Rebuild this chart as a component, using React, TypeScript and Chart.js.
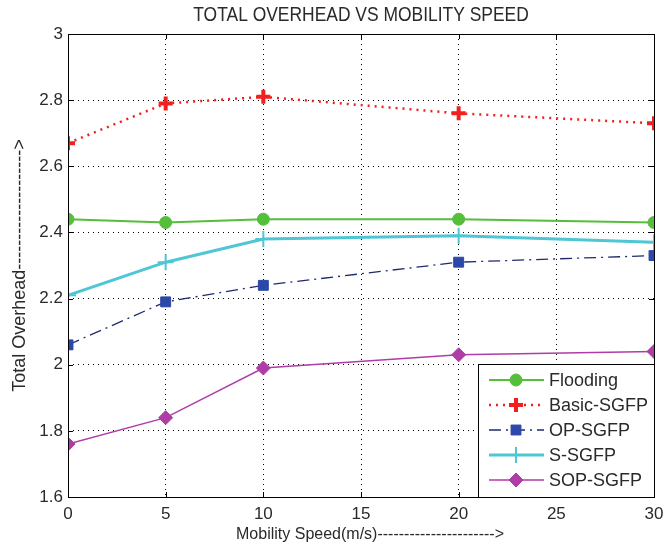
import React, { useEffect, useRef } from 'react';
import { Chart, registerables } from 'chart.js';
import { drawPoint } from 'chart.js/helpers';

Chart.register(...registerables);

const titleText = 'TOTAL OVERHEAD VS MOBILITY SPEED';
const xTitle = 'Mobility Speed(m/s)---------------------->';
const yTitle = 'Total Overhead-------------------->';

const speeds = [0, 5, 10, 20, 30];
const flooding = [2.44, 2.43, 2.44, 2.44, 2.43];
const basicSgfp = [2.67, 2.79, 2.81, 2.76, 2.73];
const opSgfp = [2.06, 2.19, 2.24, 2.31, 2.33];
const sSgfp = [2.21, 2.31, 2.38, 2.39, 2.37];
const sopSgfp = [1.76, 1.84, 1.99, 2.03, 2.04];
const seriesNames = ['Flooding', 'Basic-SGFP', 'OP-SGFP', 'S-SGFP', 'SOP-SGFP'];

const xTicks = [0, 5, 10, 15, 20, 25, 30];
const yTicks = [1.6, 1.8, 2, 2.2, 2.4, 2.6, 2.8, 3];

const FONT = '"Liberation Sans", Arial, sans-serif';
const TEXT = '#2a2a2a';

const toPts = (vals: number[]) => speeds.map((s, i) => ({ x: s, y: vals[i] }));

const framePlugin = {
  id: 'frame',
  afterDraw(chart: any) {
    const { ctx, chartArea: a, scales } = chart;
    ctx.save();
    ctx.strokeStyle = '#000';
    ctx.lineWidth = 1;
    ctx.setLineDash([]);
    ctx.beginPath();
    const t = 5;
    xTicks.forEach((v) => {
      const x = Math.round(scales.x.getPixelForValue(v)) + 0.5;
      ctx.moveTo(x, a.bottom); ctx.lineTo(x, a.bottom - t);
      ctx.moveTo(x, a.top); ctx.lineTo(x, a.top + t);
    });
    yTicks.forEach((v) => {
      const y = Math.round(scales.y.getPixelForValue(v)) + 0.5;
      ctx.moveTo(a.left, y); ctx.lineTo(a.left + t, y);
      ctx.moveTo(a.right, y); ctx.lineTo(a.right - t, y);
    });
    ctx.stroke();
    ctx.strokeRect(Math.round(a.left) + 0.5, Math.round(a.top) + 0.5, Math.round(a.right - a.left), Math.round(a.bottom - a.top));

    // title (condensed, as in the original figure)
    ctx.save();
    ctx.fillStyle = TEXT;
    ctx.font = `21px ${FONT}`;
    ctx.textAlign = 'center';
    ctx.textBaseline = 'middle';
    ctx.translate((a.left + a.right) / 2, 15);
    ctx.scale(0.83, 1);
    ctx.fillText(titleText, 0, 0);
    ctx.restore();

    // x axis title
    ctx.fillStyle = TEXT;
    ctx.font = `16px ${FONT}`;
    ctx.textAlign = 'center';
    ctx.textBaseline = 'middle';
    ctx.fillText(xTitle, (a.left + a.right) / 2 + 9, 535);

    // legend
    const lw = 176, rowH = 25, lh = 133;
    const lx = a.right - lw, ly = a.bottom - lh;
    ctx.fillStyle = '#fff';
    ctx.fillRect(lx, ly, lw, lh);
    ctx.strokeStyle = '#000';
    ctx.strokeRect(Math.round(lx) + 0.5, Math.round(ly) + 0.5, lw, lh);
    chart.data.datasets.forEach((ds: any, i: number) => {
      const y = ly + 16 + i * rowH;
      ctx.save();
      ctx.strokeStyle = ds.borderColor;
      ctx.lineWidth = ds.borderWidth;
      ctx.setLineDash(ds.borderDash || []);
      ctx.beginPath();
      ctx.moveTo(lx + 11, y);
      ctx.lineTo(lx + 66, y);
      ctx.stroke();
      ctx.setLineDash([]);
      ctx.fillStyle = ds.pointBackgroundColor;
      ctx.strokeStyle = ds.pointBorderColor;
      ctx.lineWidth = ds.pointBorderWidth;
      drawPoint(ctx, { pointStyle: ds.pointStyle, radius: ds.pointRadius, borderWidth: ds.pointBorderWidth, rotation: 0 }, lx + 38, y);
      ctx.restore();
      ctx.fillStyle = TEXT;
      ctx.font = `18px ${FONT}`;
      ctx.textAlign = 'left';
      ctx.textBaseline = 'middle';
      ctx.fillText(seriesNames[i], lx + 71, y + 1);
    });
    ctx.restore();
  },
};

export default function App() {
  const ref = useRef<HTMLCanvasElement>(null);
  useEffect(() => {
    const chart = new Chart(ref.current!, {
      type: 'line',
      data: {
        datasets: [
          {
            label: seriesNames[0], data: toPts(flooding),
            borderColor: '#55bf3b', borderWidth: 2,
            pointStyle: 'circle', pointRadius: 6, pointBackgroundColor: '#55bf3b', pointBorderColor: '#55bf3b', pointBorderWidth: 1,
          },
          {
            label: seriesNames[1], data: toPts(basicSgfp),
            borderColor: '#f02020', borderWidth: 2.5, borderDash: [2, 5],
            pointStyle: 'cross', pointRadius: 7, pointBackgroundColor: '#f02020', pointBorderColor: '#f02020', pointBorderWidth: 4,
          },
          {
            label: seriesNames[2], data: toPts(opSgfp),
            borderColor: '#1e2a6e', borderWidth: 1.3, borderDash: [12, 5, 2, 5],
            pointStyle: 'rect', pointRadius: 7, pointBackgroundColor: '#2c48a8', pointBorderColor: '#2c48a8', pointBorderWidth: 1,
          },
          {
            label: seriesNames[3], data: toPts(sSgfp),
            borderColor: '#4fc6d6', borderWidth: 3,
            pointStyle: 'cross', pointRadius: 8, pointBackgroundColor: '#4fc6d6', pointBorderColor: '#4fc6d6', pointBorderWidth: 2,
          },
          {
            label: seriesNames[4], data: toPts(sopSgfp),
            borderColor: '#b03ca8', borderWidth: 1.5,
            pointStyle: 'rectRot', pointRadius: 7, pointBackgroundColor: '#b03ca8', pointBorderColor: '#b03ca8', pointBorderWidth: 1,
          },
        ],
      },
      options: {
        animation: false,
        responsive: false,
        maintainAspectRatio: false,
        layout: { padding: { top: 34, right: 10, left: 0, bottom: 0 } },
        plugins: { legend: { display: false }, title: { display: false }, tooltip: { enabled: false } },
        scales: {
          x: {
            type: 'linear', min: 0, max: 30,
            afterBuildTicks: (s: any) => { s.ticks = xTicks.map((v) => ({ value: v })); },
            afterFit: (s: any) => { s.height = 51; s.paddingLeft = 0; s.paddingRight = 0; },
            ticks: { color: TEXT, font: { family: FONT, size: 17 }, padding: 7, maxRotation: 0 },
            grid: { color: '#000', lineWidth: 1, drawTicks: false },
            border: { display: false, dash: [1, 4] },
            title: { display: false },
          },
          y: {
            type: 'linear', min: 1.6, max: 3,
            afterBuildTicks: (s: any) => { s.ticks = yTicks.map((v) => ({ value: v })); },
            afterFit: (s: any) => { s.width = 68; },
            ticks: { color: TEXT, font: { family: FONT, size: 17 }, padding: 5, callback: (v: any) => String(Math.round(Number(v) * 10) / 10) },
            grid: { color: '#000', lineWidth: 1, drawTicks: false },
            border: { display: false, dash: [1, 4] },
            title: { display: true, text: yTitle, color: TEXT, font: { family: FONT, size: 18 }, padding: { top: 9, bottom: 0 } },
          },
        },
      },
      plugins: [framePlugin],
    });
    return () => chart.destroy();
  }, []);
  return (
    <div style={{ position: 'absolute', left: 0, top: 0, width: 665, height: 548, background: '#fff' }}>
      <canvas ref={ref} width={665} height={548} style={{ width: 665, height: 548 }} />
    </div>
  );
}
